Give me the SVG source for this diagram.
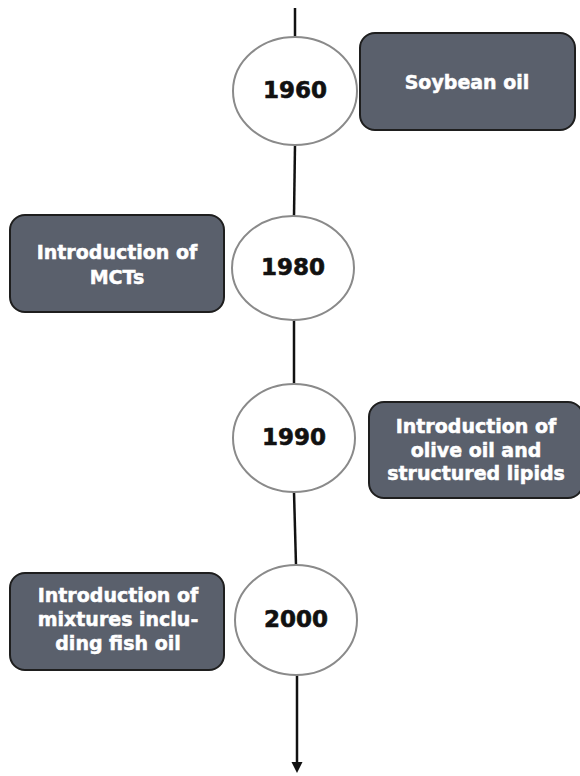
<svg xmlns="http://www.w3.org/2000/svg" width="580" height="776" viewBox="0 0 580 776">
<defs>
<style>
.yr{fill:#fff;stroke:#8a8a8a;stroke-width:2}
.yt{font-family:"DejaVu Sans",Arial,sans-serif;font-weight:bold;font-size:23px;fill:#111;stroke:#111;stroke-width:0.6;text-anchor:middle}
.bx{fill:#5a606c;stroke:#1e1e1e;stroke-width:2}
.bt{font-family:"DejaVu Sans",Arial,sans-serif;font-weight:bold;font-size:19px;fill:#fff;stroke:#fff;stroke-width:0.5;text-anchor:middle}
.ln{stroke:#111;stroke-width:2.5;fill:none}
</style>
</defs>
<g id="connectors">
<line class="ln" x1="295" y1="8" x2="295" y2="37"/>
<line class="ln" x1="295" y1="145" x2="294" y2="216"/>
<line class="ln" x1="294" y1="320" x2="294" y2="385"/>
<line class="ln" x1="294" y1="492" x2="296" y2="565"/>
<path d="M297,675 L297,764" class="ln"/>
<path d="M291.5,762 L302.5,762 L297,773 Z" fill="#111"/>
</g>
<g id="y1960"><ellipse class="yr" cx="295" cy="91" rx="62" ry="54"/><text class="yt" x="295" y="98">1960</text></g>
<g id="b1960"><rect class="bx" x="360" y="33" width="215" height="97" rx="15"/><text class="bt" x="467" y="89">Soybean oil</text></g>
<g id="y1980"><ellipse class="yr" cx="293" cy="268" rx="61" ry="52"/><text class="yt" x="293" y="275">1980</text></g>
<g id="b1980"><rect class="bx" x="10" y="215" width="214" height="97" rx="15"/><text class="bt" x="117" y="259">Introduction of</text><text class="bt" x="117" y="284">MCTs</text></g>
<g id="y1990"><ellipse class="yr" cx="294" cy="438" rx="61" ry="54"/><text class="yt" x="294" y="445">1990</text></g>
<g id="b1990"><rect class="bx" x="369" y="402" width="214" height="96" rx="15"/><text class="bt" x="476" y="433">Introduction of</text><text class="bt" x="476" y="457">olive oil and</text><text class="bt" x="476" y="480">structured lipids</text></g>
<g id="y2000"><ellipse class="yr" cx="296" cy="620" rx="61" ry="55"/><text class="yt" x="296" y="627">2000</text></g>
<g id="b2000"><rect class="bx" x="10" y="573" width="214" height="97" rx="15"/><text class="bt" x="118" y="602">Introduction of</text><text class="bt" x="118" y="626">mixtures inclu-</text><text class="bt" x="118" y="650">ding fish oil</text></g>
</svg>
